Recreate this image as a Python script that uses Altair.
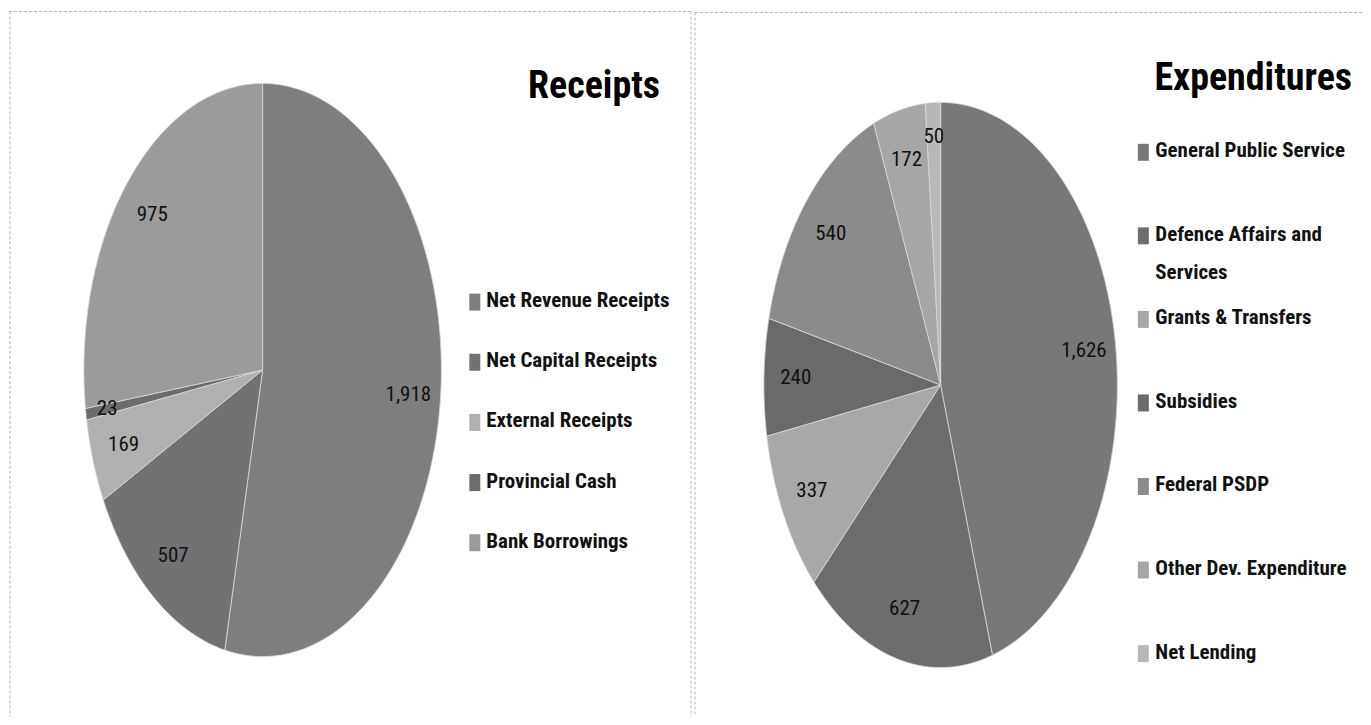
import altair as alt
import pandas as pd

# ---------------- data ----------------
rec_title = "Receipts"
rec_categories = ["Net Revenue Receipts", "Net Capital  Receipts", "External Receipts",
                  "Provincial Cash", "Bank Borrowings"]
rec_values = [1918, 507, 169, 23, 975]
rec_colors = ["#7e7e7e", "#727272", "#b0b0b0", "#6c6c6c", "#9b9b9b"]

exp_title = "Expenditures"
exp_categories = ["General Public Service", "Defence Affairs and Services", "Grants & Transfers",
                  "Subsidies", "Federal PSDP", "Other Dev. Expenditure", "Net Lending"]
exp_legend_labels = ["General Public Service", "Defence Affairs and\nServices", "Grants & Transfers",
                     "Subsidies", "Federal PSDP", "Other Dev. Expenditure", "Net Lending"]
exp_values = [1626, 627, 337, 240, 540, 172, 50]
exp_colors = ["#787878", "#6d6d6d", "#a8a8a8", "#6a6a6a", "#8b8b8b", "#a6a6a6", "#b8b8b8"]

FONT = "Roboto Condensed, Liberation Sans Narrow, DejaVu Sans Condensed, sans-serif"
N = 120  # points along each slice edge
H = 709


def panel(title, cats, labels, vals, colors, W, cx, cy, rx, ry,
          sq_x, tx_x, leg_y0, leg_y1, title_x, title_y, borders):
    df = pd.DataFrame({"category": cats, "label": labels, "value": vals,
                       "idx": list(range(len(cats)))})
    xs = alt.Scale(domain=[-1, 1], range=[cx - rx, cx + rx])
    ys = alt.Scale(domain=[-1, 1], range=[cy + ry, cy - ry])
    fill_scale = alt.Scale(domain=cats, range=colors)

    base = alt.Chart(df).transform_window(
        cum="sum(value)", sort=[alt.SortField("idx")], frame=[None, 0]
    ).transform_joinaggregate(
        total="sum(value)"
    ).transform_calculate(
        a0="2*PI*(datum.cum - datum.value)/datum.total",
        a1="2*PI*datum.cum/datum.total",
    )

    slices = base.transform_calculate(
        step=f"sequence(-1, {N + 2})"
    ).transform_flatten(["step"]).transform_calculate(
        ang=f"datum.a0 + (datum.a1 - datum.a0) * clamp(datum.step, 0, {N}) / {N}",
        rr=f"(datum.step < 0 || datum.step > {N}) ? 0 : 1",
    ).transform_calculate(
        px="datum.rr * sin(datum.ang)",
        py="datum.rr * cos(datum.ang)",
    ).mark_line(stroke="#d8d8d8", strokeWidth=0.8, interpolate="linear").encode(
        x=alt.X("px:Q", scale=xs, axis=None),
        y=alt.Y("py:Q", scale=ys, axis=None),
        order=alt.Order("step:Q"),
        detail="category:N",
        fill=alt.Fill("category:N", scale=fill_scale, legend=None),
    )

    value_labels = base.transform_calculate(
        mid="(datum.a0 + datum.a1) / 2",
        fr="datum.value / datum.total < 0.02 ? 0.88 : 0.82",
    ).transform_calculate(
        lx="datum.fr * sin(datum.mid)",
        ly="datum.fr * cos(datum.mid)",
    ).mark_text(font=FONT, fontSize=21, color="#111111").encode(
        x=alt.X("lx:Q", scale=xs, axis=None),
        y=alt.Y("ly:Q", scale=ys, axis=None),
        text=alt.Text("value:Q", format=","),
    )

    leg_scale = alt.Scale(type="point", domain=cats, range=[leg_y0, leg_y1], padding=0)
    leg_sq = alt.Chart(df).mark_tick(orient="vertical", thickness=11, size=17, opacity=1).encode(
        x=alt.value(sq_x),
        y=alt.Y("category:N", scale=leg_scale, axis=None),
        color=alt.Color("category:N", scale=fill_scale, legend=None),
    )
    leg_tx = alt.Chart(df).mark_text(
        align="left", baseline="top", dy=-12, font=FONT, fontSize=21, fontWeight="bold",
        color="#111111", lineBreak="\n", lineHeight=38,
    ).encode(
        x=alt.value(tx_x),
        y=alt.Y("category:N", scale=leg_scale, axis=None),
        text="label:N",
    )

    ttl = alt.Chart(pd.DataFrame({"t": [title]})).mark_text(
        align="right", baseline="alphabetic", font=FONT, fontSize=38, fontWeight="bold",
        color="#000000",
    ).encode(x=alt.value(title_x), y=alt.value(title_y), text="t:N")

    one = pd.DataFrame({"a": [0]})
    rules = []
    for (x1, x2, y1, y2) in borders:
        rules.append(
            alt.Chart(one).mark_rule(color="#b4b4b4", strokeWidth=1, strokeDash=[3, 2]).encode(
                x=alt.value(x1), x2=alt.value(x2), y=alt.value(y1), y2=alt.value(y2)
            )
        )

    return alt.layer(*rules, slices, value_labels, leg_sq, leg_tx, ttl).resolve_scale(
        x="independent", y="independent", color="independent", fill="independent"
    ).properties(width=W, height=H)


W1 = 686
W2 = 669
left = panel(rec_title, rec_categories, rec_categories, rec_values, rec_colors, W1,
             cx=254, cy=362, rx=179, ry=287,
             sq_x=466.5, tx_x=478, leg_y0=294, leg_y1=535,
             title_x=652, title_y=90,
             borders=[(0, 684, 3, 3), (1, 1, 3, H), (683, 683, 3, H)])
right = panel(exp_title, exp_categories, exp_legend_labels, exp_values, exp_colors, W2,
              cx=247, cy=377, rx=177, ry=283,
              sq_x=450, tx_x=462, leg_y0=144, leg_y1=646,
              title_x=659, title_y=82,
              borders=[(1, W2, 4, 4), (1, 1, 4, H)])

chart = alt.hconcat(left, right, spacing=0).properties(
    padding=0, background="white"
).configure_view(stroke=None)

chart.save("out.html", embed_options={"renderer": "svg", "actions": False})
